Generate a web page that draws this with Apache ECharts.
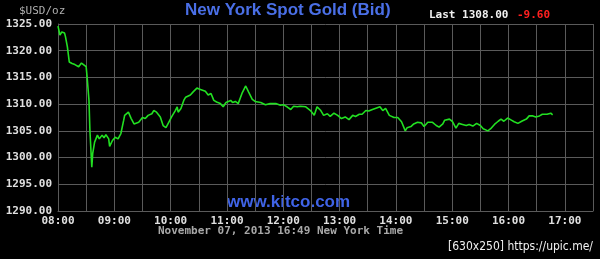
<!DOCTYPE html>
<html>
<head>
<meta charset="utf-8">
<script src="https://cdn.jsdelivr.net/npm/echarts@6/dist/echarts.min.js"></script>
<style>
html,body{margin:0;padding:0;background:#000;}
#c{width:600px;height:259px;}
</style>
</head>
<body>
<div id="c"></div>
<script>
const times = ["08:00","08:01","08:02","08:04","08:07","08:08","08:10","08:12","08:15","08:18","08:22","08:25","08:27","08:30","08:31","08:33","08:34","08:36","08:37","08:39","08:42","08:44","08:47","08:49","08:51","08:54","08:55","08:58","09:01","09:04","09:07","09:10","09:11","09:15","09:18","09:21","09:26","09:30","09:33","09:36","09:40","09:42","09:45","09:49","09:52","09:55","09:58","10:01","10:05","10:07","10:08","10:11","10:14","10:16","10:18","10:21","10:24","10:28","10:31","10:33","10:37","10:40","10:43","10:46","10:49","10:53","10:56","10:59","11:04","11:06","11:09","11:12","11:16","11:20","11:23","11:27","11:30","11:36","11:41","11:46","11:52","11:57","12:00","12:04","12:08","12:11","12:15","12:18","12:24","12:29","12:33","12:36","12:40","12:43","12:47","12:50","12:54","12:58","13:02","13:06","13:10","13:14","13:17","13:21","13:24","13:28","13:31","13:35","13:38","13:43","13:46","13:49","13:53","13:58","14:02","14:06","14:10","14:12","14:16","14:19","14:23","14:27","14:30","14:34","14:39","14:43","14:46","14:50","14:52","14:57","15:00","15:04","15:07","15:11","15:15","15:18","15:22","15:26","15:30","15:33","15:38","15:41","15:45","15:49","15:52","15:55","15:59","16:03","16:06","16:10","16:14","16:19","16:22","16:26","16:29","16:33","16:36","16:41","16:45","16:47"];
const prices = [1324.6,1323.8,1322.9,1323.5,1323.3,1322.6,1320.7,1317.9,1317.6,1317.4,1317.0,1317.7,1317.4,1317.0,1315.1,1310.7,1305.1,1298.2,1300.8,1302.9,1304.2,1303.5,1304.2,1303.7,1304.3,1303.5,1302.1,1303.2,1303.8,1303.5,1304.5,1307.0,1307.9,1308.5,1307.3,1306.3,1306.6,1307.5,1307.3,1307.9,1308.2,1308.8,1308.5,1307.6,1306.0,1305.6,1306.6,1307.6,1308.8,1309.5,1308.5,1309.2,1310.7,1311.3,1311.0,1311.7,1312.3,1313.0,1312.8,1313.0,1312.4,1311.7,1312.0,1310.7,1310.4,1310.1,1309.5,1310.3,1310.7,1310.3,1310.5,1310.1,1312.0,1313.4,1312.3,1310.9,1310.5,1310.3,1309.9,1310.1,1310.1,1309.8,1309.9,1309.5,1309.0,1309.6,1309.5,1309.6,1309.5,1308.8,1307.9,1309.5,1308.8,1307.9,1308.2,1307.7,1308.3,1307.9,1307.3,1307.6,1307.1,1307.9,1307.7,1308.1,1308.1,1308.8,1308.7,1309.0,1309.2,1309.5,1308.8,1309.2,1307.9,1307.5,1307.5,1306.7,1305.0,1305.6,1305.8,1306.3,1306.6,1306.5,1305.8,1306.6,1306.6,1306.0,1305.7,1306.3,1307.0,1307.2,1306.8,1305.5,1306.4,1306.2,1306.0,1306.2,1305.9,1306.4,1306.0,1305.4,1305.0,1305.4,1306.2,1306.8,1307.2,1306.8,1307.4,1307.0,1306.7,1306.4,1306.8,1307.2,1307.8,1307.8,1307.6,1307.8,1308.1,1308.1,1308.3,1308.0];
const xTickLabels = ["08:00","09:00","10:00","11:00","12:00","13:00","14:00","15:00","16:00","17:00"];
const yMin = 1290, yMax = 1325, yStep = 5;
const xStartMin = 8 * 60, xEndMin = 17 * 60 + 30, xStep = 30;

const titleText = "New York Spot Gold (Bid)";
const unitText = "$USD/oz";
const lastText = "Last 1308.00";
const changeText = "-9.60";
const siteText = "www.kitco.com";
const footerText = "November 07, 2013 16:49 New York Time";
const stampText = "[630x250] https://upic.me/";

function toMin(s){ const p = s.split(":"); return (+p[0]) * 60 + (+p[1]); }
const seriesData = times.map((t, i) => [toMin(t), prices[i]]);

const mono = "'DejaVu Sans Mono', monospace";
const gridCol = "#5a5a5a";

const chart = echarts.init(document.getElementById('c'), null, {renderer: 'canvas'});
chart.setOption({
  backgroundColor: '#000',
  animation: false,
  grid: {left: 58, right: 7, top: 24, bottom: 48, containLabel: false},
  xAxis: {
    type: 'value', min: xStartMin, max: xEndMin, interval: xStep,
    axisLine: {show: true, lineStyle: {color: gridCol, width: 1}},
    axisTick: {show: false},
    splitLine: {show: true, lineStyle: {color: gridCol, width: 1}},
    axisLabel: {
      color: '#e0e0e0', fontFamily: mono, fontWeight: 'bold', fontSize: 11, margin: 5,
      showMinLabel: true, showMaxLabel: true,
      formatter: function (v) {
        const h = Math.floor(v / 60), m = v % 60;
        const s = (h < 10 ? '0' : '') + h + ':' + (m < 10 ? '0' : '') + m;
        return xTickLabels.indexOf(s) >= 0 ? s : '';
      }
    }
  },
  yAxis: {
    type: 'value', min: yMin, max: yMax, interval: yStep,
    axisLine: {show: true, lineStyle: {color: gridCol, width: 1}},
    axisTick: {show: false},
    splitLine: {show: true, lineStyle: {color: gridCol, width: 1}},
    axisLabel: {
      color: '#e0e0e0', fontFamily: mono, fontWeight: 'bold', fontSize: 11, margin: 6,
      formatter: v => v.toFixed(2)
    }
  },
  series: [{
    type: 'line', data: seriesData, showSymbol: false, smooth: false,
    lineStyle: {color: '#22e022', width: 1.6}
  }],
  graphic: [
    {type: 'text', left: 19, top: 6, style: {text: unitText, fill: '#b0b0b0', font: "11px 'DejaVu Sans Mono'"}},
    {type: 'text', left: 185, top: 2, style: {text: titleText, fill: '#4a6fe6', font: "bold 17px 'Liberation Sans'"}},
    {type: 'text', left: 429, top: 10, style: {text: lastText, fill: '#f0f0f0', font: "bold 11px 'DejaVu Sans Mono'"}},
    {type: 'text', left: 517, top: 10, style: {text: changeText, fill: '#ff2020', font: "bold 11px 'DejaVu Sans Mono'"}},
    {type: 'text', left: 227, top: 194, style: {text: siteText, fill: '#3f63e6', font: "bold 17px 'Liberation Sans'"}},
    {type: 'text', left: 158, top: 226, style: {text: footerText, fill: '#a8a8a8', font: "bold 11px 'DejaVu Sans Mono'"}},
    {type: 'text', left: 448, top: 241, style: {text: stampText, fill: '#f0f0f0', font: "12px 'DejaVu Sans Condensed'"}}
  ]
});
</script>
</body>
</html>
